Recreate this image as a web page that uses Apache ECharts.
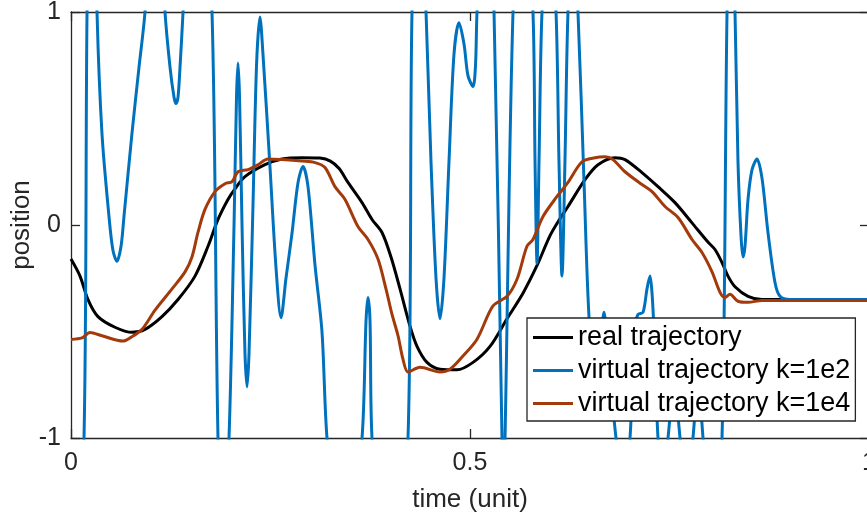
<!DOCTYPE html>
<html>
<head>
<meta charset="utf-8">
<script src="https://cdn.jsdelivr.net/npm/echarts@6/dist/echarts.min.js"></script>
<style>
  html, body { margin: 0; padding: 0; background: #fff; }
  #chart { width: 867px; height: 515px; }
</style>
</head>
<body>
<div id="chart"></div>
<script>
// Real trajectory
const realT = [0, 0.0113, 0.0213, 0.0338, 0.0551, 0.0764, 0.0927, 0.1140, 0.1341, 0.1554,
  0.1717, 0.1842, 0.1967, 0.2055, 0.2180, 0.2431, 0.2644, 0.2895, 0.3120, 0.3250,
  0.3360, 0.3471, 0.3647, 0.3772, 0.3897, 0.4010, 0.4123, 0.4248, 0.4336, 0.4461,
  0.4624, 0.4837, 0.5038, 0.5251, 0.5464, 0.5664, 0.5840, 0.6003, 0.6128, 0.6228,
  0.6441, 0.6604, 0.6817, 0.6942, 0.7155, 0.7356, 0.7569, 0.7782, 0.7982, 0.8070,
  0.8158, 0.8233, 0.8321, 0.8484, 0.8659, 1.0];
const realV = [-0.16, -0.24, -0.35, -0.43, -0.48, -0.504, -0.49, -0.43, -0.35, -0.24,
  -0.10, 0.026, 0.12, 0.17, 0.227, 0.283, 0.31, 0.316, 0.314, 0.30,
  0.265, 0.20, 0.105, 0.026, -0.035, -0.15, -0.30, -0.475, -0.57, -0.645,
  -0.677, -0.68, -0.645, -0.57, -0.44, -0.32, -0.19, -0.05, 0.03, 0.087,
  0.213, 0.283, 0.316, 0.307, 0.246, 0.18, 0.105, 0.01, -0.08, -0.115,
  -0.176, -0.24, -0.29, -0.335, -0.35, -0.35];

// Virtual trajectory, k = 1e2
const virt2T = [0, 0.0163, 0.0201, 0.0263, 0.0326, 0.0388, 0.0476, 0.0526, 0.0576, 0.0627,
  0.0664, 0.0764, 0.0852, 0.0927, 0.1053, 0.1178, 0.1241, 0.1291, 0.1316, 0.1341,
  0.1366, 0.1404, 0.1579, 0.1767, 0.1842, 0.1905, 0.1980, 0.2043, 0.2074, 0.2093,
  0.2112, 0.2143, 0.2180, 0.2206, 0.2231, 0.2281, 0.2325, 0.2368, 0.2406, 0.2494,
  0.2569, 0.2632, 0.2694, 0.2769, 0.2845, 0.2907, 0.2970, 0.3058, 0.3145, 0.3208,
  0.3421, 0.3647, 0.3697, 0.3722, 0.3747, 0.3772, 0.3997, 0.4223, 0.4273, 0.4361,
  0.4449, 0.4511, 0.4574, 0.4624, 0.4674, 0.4737, 0.4799, 0.4862, 0.4925, 0.4975,
  0.5038, 0.5069, 0.5088, 0.5201, 0.5301, 0.5401, 0.5420, 0.5439, 0.5539, 0.5664,
  0.5789, 0.5815, 0.5840, 0.5865, 0.5902, 0.5990, 0.6078, 0.6115, 0.6153, 0.6190,
  0.6228, 0.6291, 0.6353, 0.6429, 0.6491, 0.6579, 0.6629, 0.6679, 0.6729, 0.6830,
  0.6917, 0.7005, 0.7055, 0.7105, 0.7168, 0.7218, 0.7256, 0.7281, 0.7306, 0.7356,
  0.7419, 0.7481, 0.7556, 0.7632, 0.7707, 0.7794, 0.7857, 0.7920, 0.8033, 0.8158,
  0.8221, 0.8271, 0.8321, 0.8358, 0.8396, 0.8421, 0.8446, 0.8484, 0.8534, 0.8596,
  0.8659, 0.8734, 0.8822, 0.8885, 0.9010, 1.0];
const virt2V = [-2.6, -1.0, 1.0, 2.2, 1.0, 0.43, 0.04, -0.12, -0.17, -0.10,
  0.04, 0.43, 0.74, 1.0, 1.8, 1.0, 0.74, 0.60, 0.57, 0.60,
  0.74, 1.0, 2.4, 1.0, -1.0, -1.5, -1.0, 0.0, 0.6, 0.76,
  0.6, 0.0, -0.6, -0.76, -0.6, 0.1, 0.75, 0.977, 0.8, 0.27,
  -0.2, -0.435, -0.25, -0.04, 0.2, 0.275, 0.18, -0.19, -0.5, -1.0,
  -1.8, -1.0, -0.45, -0.34, -0.45, -1.0, -2.2, -1.0, 1.0, 1.8,
  1.0, 0.3, -0.25, -0.44, -0.25, 0.3, 0.8, 0.95, 0.85, 0.70,
  0.65, 0.75, 1.0, 1.8, 1.0, -1.0, -1.2, -1.0, 1.0, 1.8,
  1.0, 0.3, -0.18, 0.3, 1.0, 1.5, 1.0, 0.3, -0.24, 0.3,
  1.0, 1.4, 1.0, 0.2, -0.43, -0.8, -0.6, -0.41, -0.6, -1.0,
  -1.2, -1.0, -0.5, -0.42, -0.41, -0.3, -0.24, -0.32, -0.5, -1.0,
  -1.2, -1.0, -0.75, -1.0, -1.3, -1.0, -0.75, -1.0, -1.6, -1.0,
  1.0, 1.6, 1.0, 0.3, -0.05, -0.15, -0.10, 0.12, 0.26, 0.31,
  0.22, -0.035, -0.27, -0.335, -0.35, -0.35];

// Virtual trajectory, k = 1e4
const virt4T = [0, 0.0138, 0.0238, 0.0388, 0.0652, 0.0739, 0.0890, 0.1053, 0.1266, 0.1429,
  0.1516, 0.1591, 0.1679, 0.1805, 0.1930, 0.2018, 0.2093, 0.2218, 0.2343, 0.2469,
  0.2644, 0.2895, 0.3058, 0.3183, 0.3308, 0.3434, 0.3596, 0.3722, 0.3847, 0.3947,
  0.4023, 0.4098, 0.4160, 0.4223, 0.4373, 0.4624, 0.4749, 0.4912, 0.5088, 0.5288,
  0.5464, 0.5589, 0.5714, 0.5789, 0.5915, 0.6090, 0.6228, 0.6404, 0.6566, 0.6692,
  0.6792, 0.6942, 0.7155, 0.7281, 0.7444, 0.7607, 0.7782, 0.7907, 0.8033, 0.8133,
  0.8195, 0.8258, 0.8358, 0.8484, 0.8659, 1.0];
const virt4V = [-0.537, -0.53, -0.505, -0.52, -0.545, -0.53, -0.49, -0.40, -0.30, -0.22,
  -0.15, -0.035, 0.073, 0.157, 0.194, 0.204, 0.25, 0.26, 0.283, 0.31,
  0.307, 0.30, 0.293, 0.27, 0.18, 0.12, -0.007, -0.068, -0.16, -0.30,
  -0.42, -0.52, -0.63, -0.69, -0.668, -0.69, -0.677, -0.615, -0.536, -0.38,
  -0.335, -0.255, -0.10, -0.068, 0.04, 0.134, 0.20, 0.297, 0.316, 0.32,
  0.307, 0.25, 0.19, 0.157, 0.087, 0.035, -0.068, -0.129, -0.22, -0.316,
  -0.34, -0.325, -0.358, -0.363, -0.354, -0.355];

const seriesNames = ['real trajectory', 'virtual trajectory k=1e2', 'virtual trajectory k=1e4'];
const seriesColors = ['#000000', '#0072BD', '#A33A0B'];
const xTicks = [0, 0.5, 1];
const yTicks = [-1, 0, 1];

const pairs = (ts, vs) => ts.map((t, i) => [t, vs[i]]);
const FONT = '"Liberation Sans", Arial, Helvetica, sans-serif';
const AX = '#262626';

const chart = echarts.init(document.getElementById('chart'), null, { renderer: 'canvas' });

const lineSeries = (idx, ts, vs, smooth) => ({
  name: seriesNames[idx],
  type: 'line',
  data: pairs(ts, vs),
  showSymbol: false,
  symbol: 'none',
  smooth: smooth,
  clip: true,
  color: seriesColors[idx],
  lineStyle: { color: seriesColors[idx], width: 3 },
  itemStyle: { color: seriesColors[idx] },
  emphasis: { disabled: true },
  z: 2 + idx
});

chart.setOption({
  animation: false,
  backgroundColor: '#ffffff',
  grid: { left: 71, top: 12, width: 798, height: 426, containLabel: false, outerBoundsMode: 'none' },
  xAxis: [{
    type: 'value', min: 0, max: 1, interval: 0.5,
    name: 'time (unit)', nameLocation: 'middle', nameGap: 49, nameMoveOverlap: false,
    nameTextStyle: { fontFamily: FONT, fontSize: 26, color: AX },
    axisLine: { show: true, onZero: false, lineStyle: { color: AX, width: 1.3 } },
    axisTick: { show: true, inside: true, length: 9, lineStyle: { color: AX, width: 1.3 } },
    axisLabel: {
      fontFamily: FONT, fontSize: 25, color: AX, margin: 13,
      showMinLabel: true, showMaxLabel: true,
      formatter: v => String(xTicks.find(t => Math.abs(t - v) < 1e-9) ?? v)
    },
    splitLine: { show: false }
  }, {
    type: 'value', min: 0, max: 1, interval: 0.5, position: 'top',
    axisLine: { show: true, onZero: false, lineStyle: { color: AX, width: 1.3 } },
    axisTick: { show: true, inside: true, length: 9, lineStyle: { color: AX, width: 1.3 } },
    axisLabel: { show: false },
    splitLine: { show: false }
  }],
  yAxis: [{
    type: 'value', min: -1, max: 1, interval: 1,
    name: 'position', nameLocation: 'middle', nameGap: 36, nameRotate: 90, nameMoveOverlap: false,
    nameTextStyle: { fontFamily: FONT, fontSize: 26, color: AX },
    axisLine: { show: true, onZero: false, lineStyle: { color: AX, width: 1.3 } },
    axisTick: { show: true, inside: true, length: 9, lineStyle: { color: AX, width: 1.3 } },
    axisLabel: {
      fontFamily: FONT, fontSize: 25, color: AX, margin: 10,
      showMinLabel: true, showMaxLabel: true,
      formatter: v => String(yTicks.find(t => Math.abs(t - v) < 1e-9) ?? v)
    },
    splitLine: { show: false }
  }, {
    type: 'value', min: -1, max: 1, interval: 1, position: 'right',
    axisLine: { show: true, onZero: false, lineStyle: { color: AX, width: 1.3 } },
    axisTick: { show: true, inside: true, length: 9, lineStyle: { color: AX, width: 1.3 } },
    axisLabel: { show: false },
    splitLine: { show: false }
  }],
  legend: {
    orient: 'vertical', left: 527, top: 318,
    backgroundColor: '#ffffff', borderColor: AX, borderWidth: 1.3, borderRadius: 0,
    padding: [6, 5, 4, 6],
    itemWidth: 40, itemHeight: 3, itemGap: 6, icon: 'rect',
    selectedMode: false,
    textStyle: { fontFamily: FONT, fontSize: 27, color: '#000', lineHeight: 27 },
    data: seriesNames
  },
  series: [
    lineSeries(0, realT, realV, 0.3),
    lineSeries(1, virt2T, virt2V, 0.3),
    lineSeries(2, virt4T, virt4V, 0.3)
  ]
});
</script>
</body>
</html>
